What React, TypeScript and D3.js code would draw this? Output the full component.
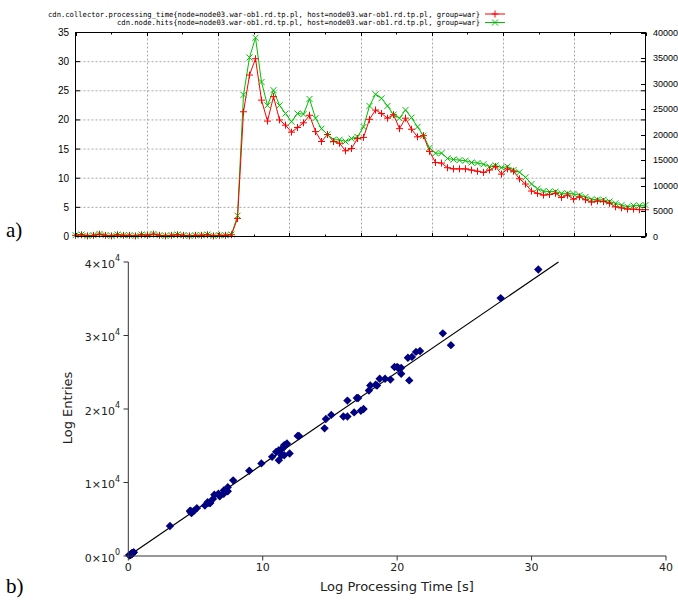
import React from 'react';
import * as d3 from 'd3';

const legendLabels = [
  'cdn.collector.processing_time{node=node03.war-ob1.rd.tp.pl, host=node03.war-ob1.rd.tp.pl, group=war}',
  'cdn.node.hits{node=node03.war-ob1.rd.tp.pl, host=node03.war-ob1.rd.tp.pl, group=war}',
];

// seconds (left axis)
const processingTime = [
  0.2, 0.3, 0.1, 0.2, 0.4, 0.2, 0.1, 0.3, 0.2, 0.2, 0.1, 0.3, 0.2, 0.4, 0.2, 0.1, 0.2, 0.3, 0.2, 0.1,
  0.2, 0.2, 0.3, 0.1, 0.2, 0.2, 0.3, 3.1,
  21.4, 27.7, 30.5, 23.4, 19.8, 24.0, 20.0, 19.1, 17.9, 18.7, 19.5, 20.8, 18.0, 16.3, 17.5, 16.3, 16.0, 14.7, 15.1, 16.8,
  17.0, 20.1, 21.7, 21.1, 20.3, 20.9, 18.5, 20.3, 18.4, 17.1, 17.3, 14.6, 12.7, 12.6, 11.8, 11.6, 11.6, 11.6, 11.4, 11.2, 11.0, 11.4, 12.0, 10.7,
  11.6, 11.2, 9.9, 9.0, 7.8, 7.4, 7.1, 7.2, 7.4, 6.7, 7.1, 6.4, 6.8, 6.3, 5.9, 6.1, 6.0, 5.7, 5.1, 4.9, 4.7, 4.7, 4.6, 4.6,
];

// hits (right axis)
const nodeHits = [
  250, 380, 120, 250, 500, 250, 120, 380, 250, 250, 120, 380, 250, 500, 250, 120, 250, 380, 250, 120,
  250, 250, 380, 120, 250, 250, 380, 4080,
  27770, 35090, 38970, 30290, 25710, 28690, 25710, 24110, 22510, 24110, 24000, 26970, 23200, 21140, 20000, 18970, 18970, 18630, 19200, 19540,
  21490, 25600, 27890, 27090, 25600, 23890, 23200, 24800, 23310, 21490, 19770, 17370, 16340, 16340, 15310, 15090, 14970, 14860, 14510, 14400, 14170, 13710, 13940, 13490,
  13710, 13030, 12600, 11600, 10290, 9370, 8910, 8800, 8800, 8460, 8460, 8340, 8110, 7770, 7310, 7200, 7200, 6860, 6510, 6170, 5830, 6060, 6060, 6170,
];

const leftTicks = [0, 5, 10, 15, 20, 25, 30, 35];
const rightTicks = [0, 5000, 10000, 15000, 20000, 25000, 30000, 35000, 40000];
const topMajorDivisions = 8;

const scatterXTicks = [0, 10, 20, 30, 40];
const scatterYTicks = [0, 10000, 20000, 30000, 40000];
const scatterYMantissa = ['0', '1', '2', '3', '4'];
const scatterYExponent = ['0', '4', '4', '4', '4'];
const fitX = [0, 32];
const fitY = [0, 40000];

const RED = '#ff0000';
const GREEN = '#00c000';
const NAVY = '#000080';

export default function App() {
  const n = processingTime.length;
  const x = d3.scaleLinear().domain([0, n - 1]).range([75.5, 645.5]);
  const yL = d3.scaleLinear().domain([0, 35]).range([236.5, 32.5]);
  const yR = d3.scaleLinear().domain([0, 40000]).range([236.5, 32.5]);

  const majorX = d3.range(topMajorDivisions + 1).map((k) => (k * (n - 1)) / topMajorDivisions);
  const minorX = d3.range(topMajorDivisions).map((k) => ((k + 0.5) * (n - 1)) / topMajorDivisions);

  const redLine = d3.line<number>().x((_, i) => x(i)).y((d) => yL(d))(processingTime) || '';
  const greenLine = d3.line<number>().x((_, i) => x(i)).y((d) => yR(d))(nodeHits) || '';

  const sx = d3.scaleLinear().domain([0, 40]).range([128.3, 666]);
  const sy = d3.scaleLinear().domain([0, 40000]).range([556, 262]);
  const fitPath = d3.line<number>().x((d) => sx(d)).y((_, i) => sy(fitY[i]))(fitX) || '';

  const plus = (cx: number, cy: number, r: number) => `M${cx - r},${cy}H${cx + r}M${cx},${cy - r}V${cy + r}`;
  const cross = (cx: number, cy: number, r: number) =>
    `M${cx - r},${cy - r}L${cx + r},${cy + r}M${cx - r},${cy + r}L${cx + r},${cy - r}`;
  const diamond = (cx: number, cy: number, r: number) =>
    `M${cx},${cy - r}L${cx + r},${cy}L${cx},${cy + r}L${cx - r},${cy}Z`;

  const tickFont = { fontFamily: 'Liberation Sans, Arial, sans-serif', fontSize: 10 };
  const sFont = { fontFamily: 'DejaVu Sans, sans-serif' };

  return (
    <svg width={678} height={600} style={{ position: 'absolute', left: 0, top: 0, background: '#fff' }}>
      <rect width={678} height={600} fill="#fff" />
      {/* ---------- a) time series ---------- */}
      <g stroke="#a8a8a8" strokeWidth={1} strokeDasharray="2,2">
        {leftTicks.slice(1, -1).map((t) => (
          <line key={'gy' + t} x1={x.range()[0]} x2={x.range()[1]} y1={yL(t)} y2={yL(t)} />
        ))}
        {majorX.slice(1, -1).map((t) => (
          <line key={'gx' + t} x1={Math.round(x(t)) + 0.5} x2={Math.round(x(t)) + 0.5} y1={yL(0)} y2={yL(35)} />
        ))}
      </g>
      <g stroke="#000" strokeWidth={1}>
        {leftTicks.map((t) => (
          <g key={'lt' + t}>
            <line x1={75.5} x2={80} y1={yL(t)} y2={yL(t)} />
            <line x1={641} x2={645.5} y1={yL(t)} y2={yL(t)} />
          </g>
        ))}
        {rightTicks.map((t) => (
          <line key={'rt' + t} x1={641} x2={645.5} y1={Math.round(yR(t)) + 0.5} y2={Math.round(yR(t)) + 0.5} />
        ))}
        {majorX.map((t) => (
          <g key={'mx' + t}>
            <line x1={Math.round(x(t)) + 0.5} x2={Math.round(x(t)) + 0.5} y1={32.5} y2={36} />
            <line x1={Math.round(x(t)) + 0.5} x2={Math.round(x(t)) + 0.5} y1={233} y2={236.5} />
          </g>
        ))}
        {minorX.map((t) => (
          <g key={'nx' + t}>
            <line x1={Math.round(x(t)) + 0.5} x2={Math.round(x(t)) + 0.5} y1={32.5} y2={34.5} />
            <line x1={Math.round(x(t)) + 0.5} x2={Math.round(x(t)) + 0.5} y1={234.5} y2={236.5} />
          </g>
        ))}
      </g>
      {leftTicks.map((t) => (
        <text key={'ll' + t} x={69} y={yL(t)} dy="0.35em" textAnchor="end" fill="#000" {...tickFont}>
          {t}
        </text>
      ))}
      {rightTicks.map((t) => (
        <text
          key={'rl' + t}
          x={653}
          y={yR(t)}
          dy="0.35em"
          textAnchor="start"
          fill="#000"
          fontFamily="Liberation Sans, Arial, sans-serif"
          fontSize={9}
        >
          {t}
        </text>
      ))}
      <path d={greenLine} fill="none" stroke={GREEN} strokeWidth={1} />
      <path d={redLine} fill="none" stroke={RED} strokeWidth={1} />
      <g stroke={GREEN} strokeWidth={1} fill="none">
        {nodeHits.map((v, i) => (
          <path key={'gm' + i} d={cross(x(i), yR(v), 3)} />
        ))}
      </g>
      <g stroke={RED} strokeWidth={1} fill="none">
        {processingTime.map((v, i) => (
          <path key={'rm' + i} d={plus(x(i), yL(v), 3.5)} />
        ))}
      </g>
      <rect x={75.5} y={32.5} width={570} height={204} fill="none" stroke="#000" strokeWidth={1} />
      <g fontFamily="DejaVu Sans Mono, monospace" fontSize={7.4} fill="#000">
        <text x={480} y={16.5} textAnchor="end" textLength={432} lengthAdjust="spacingAndGlyphs">
          {legendLabels[0]}
        </text>
        <text x={480} y={25.2} textAnchor="end" textLength={363} lengthAdjust="spacingAndGlyphs">
          {legendLabels[1]}
        </text>
      </g>
      <line x1={485} x2={505} y1={14} y2={14} stroke={RED} strokeWidth={1} />
      <path d={plus(495, 14, 3.5)} stroke={RED} strokeWidth={1} fill="none" />
      <line x1={485} x2={505} y1={22.5} y2={22.5} stroke={GREEN} strokeWidth={1} />
      <path d={cross(495, 22.5, 3)} stroke={GREEN} strokeWidth={1} fill="none" />
      <text x={6} y={237} fontFamily="Liberation Serif, Times New Roman, serif" fontSize={21} fill="#000">
        a)
      </text>

      {/* ---------- b) scatter ---------- */}
      <path d={fitPath} fill="none" stroke="#000" strokeWidth={1.2} />
      <g fill={NAVY}>
        {processingTime.map((t, i) => (
          <path key={'sc' + i} d={diamond(sx(t), sy(nodeHits[i]), 4.2)} />
        ))}
      </g>
      <g stroke="#333" strokeWidth={1}>
        <line x1={128.3} x2={128.3} y1={sy(0)} y2={sy(40000)} />
        <line x1={sx(0)} x2={sx(40)} y1={556} y2={556} />
        {scatterYTicks.map((t) => (
          <line key={'syt' + t} x1={123.5} x2={128.3} y1={sy(t)} y2={sy(t)} />
        ))}
        {scatterXTicks.map((t) => (
          <line key={'sxt' + t} x1={sx(t)} x2={sx(t)} y1={556} y2={560.5} />
        ))}
      </g>
      {scatterYTicks.map((t, i) => (
        <text key={'syl' + t} x={120} y={sy(t) + 5.5} textAnchor="end" fill="#222" fontSize={11} {...sFont}>
          {scatterYMantissa[i] + '\u00d710'}
          <tspan dy={-6.5} fontSize={8}>
            {scatterYExponent[i]}
          </tspan>
        </text>
      ))}
      {scatterXTicks.map((t) => (
        <text key={'sxl' + t} x={sx(t)} y={571} textAnchor="middle" fill="#222" fontSize={11} {...sFont}>
          {t}
        </text>
      ))}
      <text x={397} y={591} textAnchor="middle" fill="#222" fontSize={13} {...sFont}>
        Log Processing Time [s]
      </text>
      <text transform="translate(72,408) rotate(-90)" textAnchor="middle" fill="#222" fontSize={13} {...sFont}>
        Log Entries
      </text>
      <text x={6} y={593} fontFamily="Liberation Serif, Times New Roman, serif" fontSize={21} fill="#000">
        b)
      </text>
    </svg>
  );
}
